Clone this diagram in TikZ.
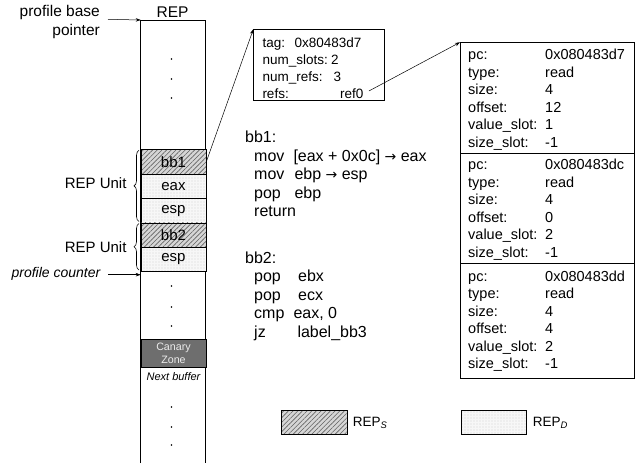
\documentclass[tikz,border=0pt]{standalone}
\usepackage{fontspec}
\setmainfont{Liberation Sans}
\newfontfamily\arrowfont{DejaVu Sans}
\usetikzlibrary{patterns.meta,decorations.pathreplacing,arrows.meta}
\newcommand\myfs[2]{\fontsize{#1}{#2}\selectfont}
\begin{document}
\begin{tikzpicture}[x=1pt,y=-1pt,
  lbl/.style={inner sep=0pt, font=\myfs{15.5}{19}},
  cell/.style={draw, line width=0.6pt, minimum width=65pt, minimum height=24.4pt, inner sep=0pt, anchor=north west, font=\myfs{15}{18}},
  hcell/.style={cell, preaction={fill=black!16}, pattern={Lines[angle=45,distance=3.3pt,line width=0.6pt]}, pattern color=black!62},
  dcell/.style={cell, preaction={fill=black!3}, pattern={Dots[distance=3pt,radius=0.35pt]}, pattern color=black!45},
  arr/.style={-{Stealth[length=5pt,width=3.5pt]}, line width=0.5pt},
  dotm/.style={circle, fill=black, inner sep=0pt, minimum size=1.6pt},
  code/.style={anchor=base west, inner sep=0pt, font=\myfs{16}{19}},
  tagt/.style={anchor=base west, inner sep=0pt, font=\myfs{13.5}{17}},
  rect/.style={anchor=base west, inner sep=0pt, font=\myfs{14.5}{17.5}},
  box/.style={draw, line width=0.6pt, anchor=north west, inner sep=0pt},
  brc/.style={decorate, decoration={brace, amplitude=5pt}, line width=0.6pt}
]
\useasboundingbox (0,0) rectangle (641,466);

% REP column
\coordinate (cTL) at (140.7,20);
\coordinate (cTR) at (205.7,20);
\coordinate (cBL) at (140.7,463);
\coordinate (cBR) at (205.7,463);
\draw[line width=0.6pt] (cBL) -- (cTL) -- (cTR) -- (cBR);
\node[lbl, anchor=base] (rep) at (172.5,17) {REP};

\node[lbl, anchor=base east] (pbp1) at (100,16.7) {profile base};
\node[lbl, anchor=base east] (pbp2) at (100,35.7) {pointer};
\coordinate (pbpA) at (108,19.3);
\draw[arr] (pbpA) -- (cTL);

% dots top
\node[dotm] (d1) at (171.5,59) {};
\node[dotm] (d2) at (171.5,79) {};
\node[dotm] (d3) at (171.5,98) {};

% cells
\node[hcell] (bb1) at (140.7,149.3) {bb1};
\node[dcell] (eax) at (140.7,173.7) {eax};
\node[dcell] (esp1) at (140.7,198.1) {esp};
\node[hcell] (bb2) at (140.7,222.5) {bb2};
\node[dcell] (esp2) at (140.7,246.9) {esp};

% braces
\draw[brc] (139,221.5) -- (139,150.3);
\draw[brc] (139,270) -- (139,223.5);
\node[lbl, anchor=base east, font=\myfs{15}{18}] (ru1) at (126.7,188.5) {REP Unit};
\node[lbl, anchor=base east, font=\myfs{15}{18}] (ru2) at (126.7,252.5) {REP Unit};

% profile counter
\node[lbl, anchor=base east, font=\myfs{14}{17}\itshape] (pc) at (100.5,277) {profile counter};
\coordinate (pcA) at (108,274.7);
\coordinate (pcB) at (140.7,274.7);
\draw[arr] (pcA) -- (pcB);

% dots middle
\node[dotm] (d4) at (171.5,286) {};
\node[dotm] (d5) at (171.5,307) {};
\node[dotm] (d6) at (171.5,326) {};

% canary
\node[cell, fill=black!57, minimum height=27.4pt, text=black!8, font=\myfs{10.7}{13}, align=center] (can) at (140.7,339.3) {Canary\\Zone};
\node[inner sep=0pt, font=\myfs{11}{13}\itshape] (nb) at (173.5,377) {Next buffer};

% dots bottom
\node[dotm] (d7) at (171.5,407) {};
\node[dotm] (d8) at (171.5,427) {};
\node[dotm] (d9) at (171.5,445) {};

% tag box
\node[box, minimum width=131pt, minimum height=70.7pt] (tagbox) at (253.3,29.3) {};
\node[tagt] (t1) at (262.3,47) {tag:};
\node[tagt] (t1v) at (294.3,47) {0x80483d7};
\node[tagt] (t2) at (262.3,64.2) {num\_slots:};
\node[tagt] (t2v) at (331,64.2) {2};
\node[tagt] (t3) at (262.3,81.4) {num\_refs:};
\node[tagt] (t3v) at (333.5,81.4) {3};
\node[tagt] (t4) at (262.3,98.6) {refs:};
\node[tagt] (ref0) at (340,98.6) {ref0};
\draw[arr] (bb1.east) -- (tagbox.north west);

% code
\node[code] (c1) at (245,142.5) {bb1:};
\node[code] (c2) at (254,161) {mov};
\node[code] (c2o) at (293.3,161) {[eax + 0x0c] {\arrowfont\myfs{14}{19}→} eax};
\node[code] (c3) at (254,179.5) {mov};
\node[code] (c3o) at (294.3,179.5) {ebp {\arrowfont\myfs{14}{19}→} esp};
\node[code] (c4) at (254,198) {pop};
\node[code] (c4o) at (294.3,198) {ebp};
\node[code] (c5) at (254,216.5) {return};

\node[code] (e1) at (245,263) {bb2:};
\node[code] (e2) at (254,281.5) {pop};
\node[code] (e2o) at (298,281.5) {ebx};
\node[code] (e3) at (254,300) {pop};
\node[code] (e3o) at (298,300) {ecx};
\node[code] (e4) at (254,318.5) {cmp};
\node[code] (e4o) at (293.3,318.5) {eax, 0};
\node[code] (e5) at (254,337) {jz};
\node[code] (e5o) at (297.3,337) {label\_bb3};

% ref records
\node[box, minimum width=174pt, minimum height=111pt] (rec1) at (460,42.3) {};
\node[box, minimum width=174pt, minimum height=110pt] (rec2) at (460,153.3) {};
\node[box, minimum width=174pt, minimum height=115pt] (rec3) at (460,263.3) {};
\node[rect] (r1t) at (468,59.5) {\begin{tabular}[t]{@{}p{77pt}@{}l@{}}
pc: & 0x080483d7\\ type: & read\\ size: & 4\\ offset: & 12\\ value\_slot: & 1\\ size\_slot: & -1\end{tabular}};
\node[rect] (r2t) at (468,169.5) {\begin{tabular}[t]{@{}p{77pt}@{}l@{}}
pc: & 0x080483dc\\ type: & read\\ size: & 4\\ offset: & 0\\ value\_slot: & 2\\ size\_slot: & -1\end{tabular}};
\node[rect] (r3t) at (468,281) {\begin{tabular}[t]{@{}p{77pt}@{}l@{}}
pc: & 0x080483dd\\ type: & read\\ size: & 4\\ offset: & 4\\ value\_slot: & 2\\ size\_slot: & -1\end{tabular}};
\draw[arr, shorten <=6pt] (ref0.east) -- (rec1.north west);

% legend
\node[hcell, minimum width=65.7pt, minimum height=24.3pt] (lgS) at (281,410) {};
\node[inner sep=0pt, anchor=west, font=\myfs{13.5}{16}] (lgSt) at (352.7,422.5) {REP\textsubscript{\textit{S}}};
\node[dcell, minimum width=65.3pt, minimum height=24.3pt] (lgD) at (460.7,410) {};
\node[inner sep=0pt, anchor=west, font=\myfs{13.5}{16}] (lgDt) at (532.7,422.5) {REP\textsubscript{\textit{D}}};
\end{tikzpicture}
\end{document}
